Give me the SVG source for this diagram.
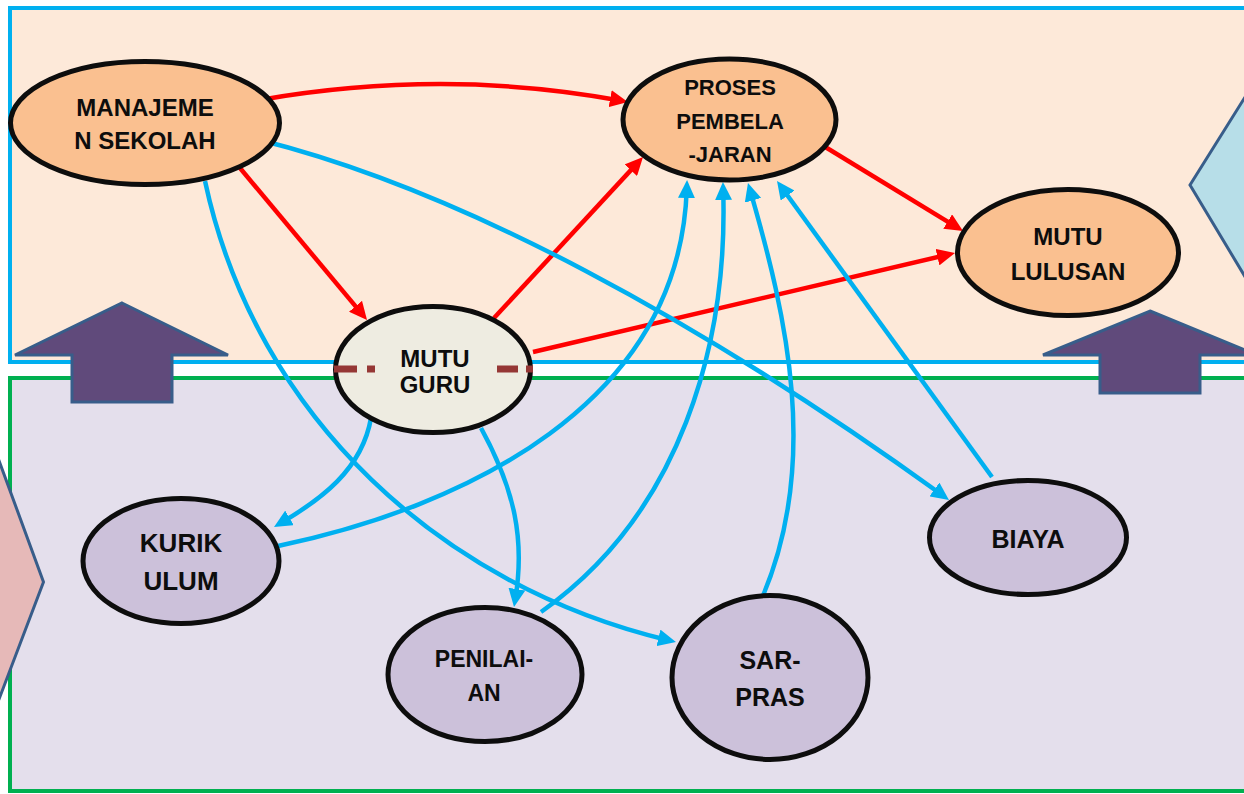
<svg xmlns="http://www.w3.org/2000/svg" width="1244" height="794" viewBox="0 0 1244 794">
<style>
.node ellipse{stroke:#0D0D0D;stroke-width:5}
.org{fill:#FAC090}
.gry{fill:#EEECE1}
.lil{fill:#CCC1DA}
text{font-family:"Liberation Sans",Arial,sans-serif;font-weight:bold;fill:#0D0D0D;text-anchor:middle}
.red{fill:none;stroke:#FF0000;stroke-width:4.5;marker-end:url(#ar)}
.blu{fill:none;stroke:#00B0F0;stroke-width:4.5}
.blua{marker-end:url(#ab)}
.upar{fill:#604A7B;stroke:#385D8A;stroke-width:3}
.dd{stroke:#953735;stroke-width:7}
</style>
<defs>
<marker id="ar" markerUnits="userSpaceOnUse" markerWidth="18" markerHeight="17" refX="10" refY="8.5" orient="auto"><path d="M0,0 L18,8.5 L0,17 z" fill="#FF0000"/></marker>
<marker id="ab" markerUnits="userSpaceOnUse" markerWidth="18" markerHeight="17" refX="10" refY="8.5" orient="auto"><path d="M0,0 L18,8.5 L0,17 z" fill="#00B0F0"/></marker>
</defs>
<rect width="1244" height="794" fill="#FFFFFF"/>
<g id="background">
<rect x="10" y="8" width="1260" height="354" fill="#FDE9D9" stroke="#00B0F0" stroke-width="4"/>
<rect x="10" y="378" width="1260" height="413" fill="#E4DFEC" stroke="#00B050" stroke-width="4"/>
<polygon points="-10,436 43.5,582 -10,723" fill="#E6B9B8" stroke="#385D8A" stroke-width="3"/>
<polygon points="1262,70 1190,185 1262,305" fill="#B7DEE8" stroke="#385D8A" stroke-width="3"/>
<polygon class="upar" points="122,303 228,355 172,355 172,402 72,402 72,355 15,355"/>
<polygon class="upar" points="1150,311 1257,355 1200,355 1200,393 1100,393 1100,355 1043,355"/>
</g>
<g id="connectors">
<path class="red" d="M260,100 Q444,68 620,100.5"/>
<path class="red" d="M240,168 L361.9,313.9"/>
<path class="red" d="M494,318 L637.6,162.9"/>
<path class="red" d="M533,352 L947.2,254.8"/>
<path class="red" d="M822,145 L956.2,226.8"/>
<path class="blu blua" d="M260,140 C460,190 700,320 942.5,495.3"/>
<path class="blu blua" d="M205,181 C256,419 444,587 668.2,640.2"/>
<path class="blu blua" d="M278,546 C464,507 680,405 686.8,188"/>
<path class="blu blua" d="M541,612 C680,514 728,345 723.2,190"/>
<path class="blu blua" d="M762,598 C820,463 787,317 750.2,190.7"/>
<path class="blu blua" d="M992,477 L781.7,187.5"/>
<path class="blu blua" d="M371,418 C362,470 320,500 280.9,523"/>
<path class="blu blua" d="M481,428 C515,490 525,540 515.3,599"/>
</g>
<g id="manajemen" class="node">
<ellipse class="org" cx="145" cy="123" rx="134.5" ry="61.5"/>
<text x="145" y="115.6" font-size="24">MANAJEME</text>
<text x="145" y="148.6" font-size="24">N SEKOLAH</text>
</g>
<g id="proses" class="node">
<ellipse class="org" cx="729.5" cy="119.5" rx="106.5" ry="60.5"/>
<text x="730" y="95" font-size="22">PROSES</text>
<text x="730" y="129" font-size="22">PEMBELA</text>
<text x="730" y="162" font-size="22">-JARAN</text>
</g>
<g id="lulusan" class="node">
<ellipse class="org" cx="1068" cy="252.5" rx="110.5" ry="63"/>
<text x="1068" y="244.6" font-size="24">MUTU</text>
<text x="1068" y="279.6" font-size="24">LULUSAN</text>
</g>
<g id="guru" class="node">
<ellipse class="gry" cx="433" cy="369.5" rx="97.5" ry="63"/>
<line class="dd" x1="334" y1="369" x2="357" y2="369"/>
<line class="dd" x1="367" y1="369" x2="375" y2="369"/>
<line class="dd" x1="497" y1="369" x2="518" y2="369"/>
<line class="dd" x1="526" y1="369" x2="533" y2="369"/>
<text x="435" y="367" font-size="24">MUTU</text>
<text x="435" y="393" font-size="24">GURU</text>
</g>
<g id="kurikulum" class="node">
<ellipse class="lil" cx="181" cy="561" rx="98" ry="62.5"/>
<text x="181" y="552" font-size="26">KURIK</text>
<text x="181" y="590" font-size="26">ULUM</text>
</g>
<g id="penilaian" class="node">
<ellipse class="lil" cx="485" cy="674.5" rx="97" ry="67"/>
<text x="484" y="667" font-size="23">PENILAI-</text>
<text x="484" y="701" font-size="23">AN</text>
</g>
<g id="sarpras" class="node">
<ellipse class="lil" cx="770" cy="677.5" rx="98" ry="82"/>
<text x="770" y="669" font-size="25">SAR-</text>
<text x="770" y="706" font-size="25">PRAS</text>
</g>
<g id="biaya" class="node">
<ellipse class="lil" cx="1028" cy="537.5" rx="98.5" ry="57"/>
<text x="1028" y="548" font-size="25">BIAYA</text>
</g>
</svg>
